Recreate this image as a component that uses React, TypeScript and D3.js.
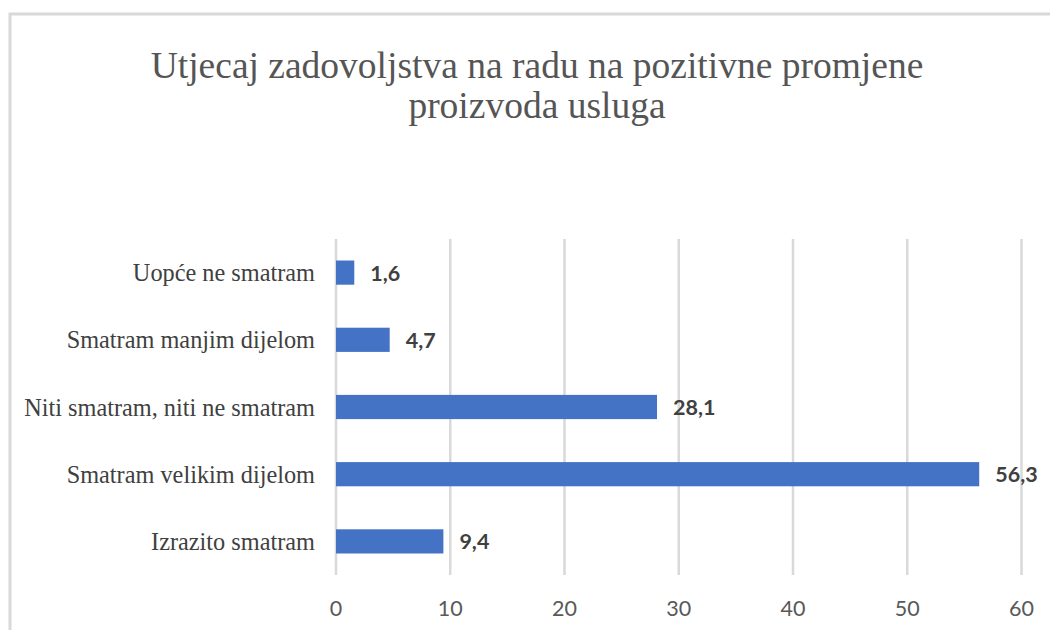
import React from "react";
import * as d3 from "d3";

const titleLines = ["Utjecaj zadovoljstva na radu na pozitivne promjene", "proizvoda usluga"];
const categories = [
  "Uopće ne smatram",
  "Smatram manjim dijelom",
  "Niti smatram, niti ne smatram",
  "Smatram velikim dijelom",
  "Izrazito smatram",
];
const values = [1.6, 4.7, 28.1, 56.3, 9.4];
const ticks = [0, 10, 20, 30, 40, 50, 60];

const W = 1050;
const H = 630;

export default function App() {
  const x = d3.scaleLinear().domain([0, 60]).range([336, 1021.5]);
  const y = d3.scaleBand<string>().domain(categories).range([239, 575]).paddingInner(0.64).paddingOuter(0.32);
  const fmt = (v: number) => v.toFixed(1).replace(".", ",");
  return (
    <div style={{ position: "absolute", left: 0, top: 0 }}>
      <svg width={W} height={H} style={{ display: "block", background: "#fff" }}>
        <rect x={10} y={14} width={1100} height={700} fill="#fff" stroke="#d9d9d9" strokeWidth={3} />
        {titleLines.map((t, i) => (
          <text
            key={i}
            x={537}
            y={78 + i * 40}
            textAnchor="middle"
            fontFamily="'Liberation Serif', 'Times New Roman', serif"
            fontSize={37.5}
            fill="#555555"
          >
            {t}
          </text>
        ))}
        {ticks.map((t) => (
          <line key={"g" + t} x1={x(t)} x2={x(t)} y1={239} y2={575} stroke="#d9d9d9" strokeWidth={2.5} />
        ))}
        {ticks.map((t) => (
          <text
            key={"t" + t}
            x={x(t)}
            y={608}
            textAnchor="middle"
            dominantBaseline="central"
            fontFamily="Lato, 'Open Sans', sans-serif"
            fontSize={21.5}
            fill="#595959"
          >
            {t}
          </text>
        ))}
        {categories.map((c, i) => {
          const yc = (y(c) as number) + y.bandwidth() / 2;
          return (
            <g key={c}>
              <rect x={x(0)} y={y(c)} width={x(values[i]) - x(0)} height={y.bandwidth()} fill="#4472c4" />
              <text
                x={315}
                y={yc}
                textAnchor="end"
                dominantBaseline="central"
                fontFamily="'Liberation Serif', 'Times New Roman', serif"
                fontSize={24.3}
                fill="#404040"
              >
                {c}
              </text>
              <text
                x={x(values[i]) + 16}
                y={yc}
                dominantBaseline="central"
                fontFamily="Lato, 'Open Sans', sans-serif"
                fontWeight="bold"
                fontSize={21.5}
                fill="#404040"
              >
                {fmt(values[i])}
              </text>
            </g>
          );
        })}
      </svg>
    </div>
  );
}
